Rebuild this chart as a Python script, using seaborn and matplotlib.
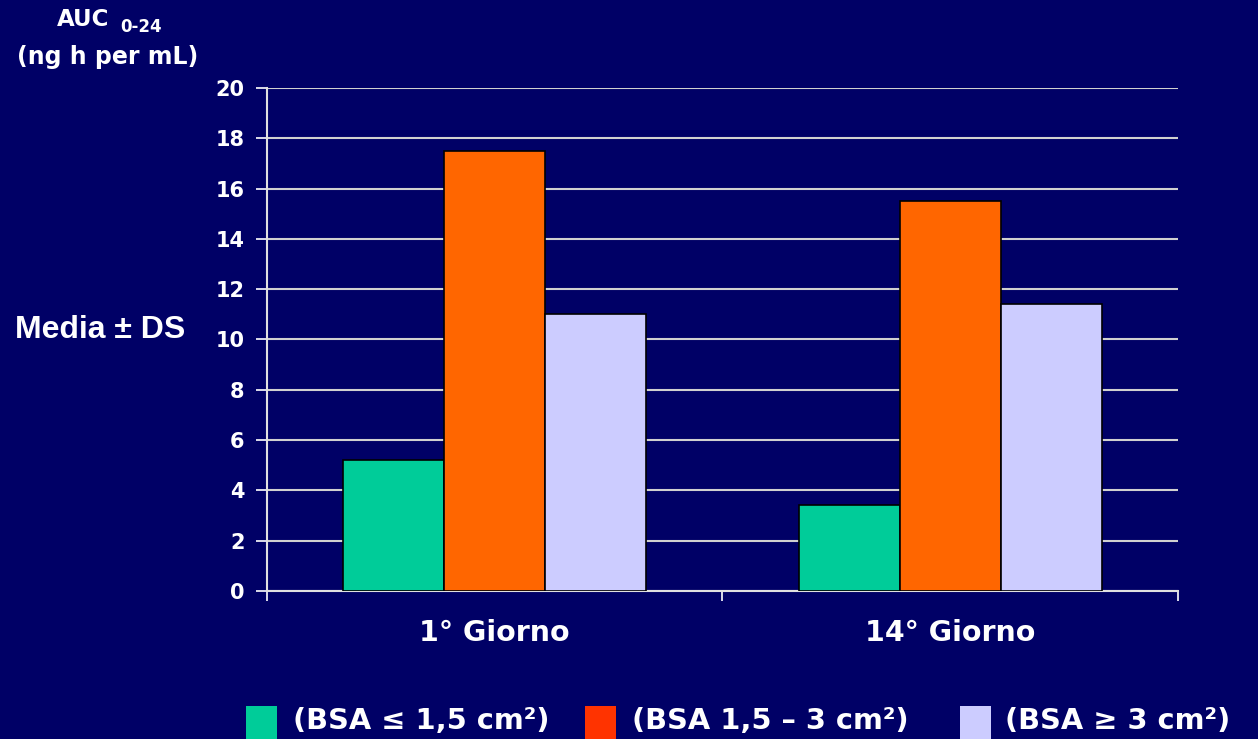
import matplotlib
matplotlib.use("Agg")
import matplotlib.pyplot as plt
import seaborn as sns
import pandas as pd
from matplotlib.patches import Rectangle

# Data
days = ["1° Giorno", "14° Giorno"]
groups = ["(BSA ≤ 1,5 cm²)", "(BSA 1,5 – 3 cm²)", "(BSA ≥ 3 cm²)"]
auc_bsa_low = [5.2, 3.4]
auc_bsa_mid = [17.5, 15.5]
auc_bsa_high = [11.0, 11.4]
y_ticks = [0, 2, 4, 6, 8, 10, 12, 14, 16, 18, 20]

bar_colors = ["#00CC99", "#FF6600", "#CCCCFF"]
legend_colors = ["#00CC99", "#FF3300", "#CCCCFF"]
bg = "#000066"

rows = []
for series, name in zip([auc_bsa_low, auc_bsa_mid, auc_bsa_high], groups):
    for d, v in zip(days, series):
        rows.append({"day": d, "group": name, "auc": v})
df = pd.DataFrame(rows)

sns.set_style("white")
plt.rcParams["font.family"] = ["DejaVu Sans"]

fig = plt.figure(figsize=(12.58, 7.39), dpi=100, facecolor=bg)
ax = fig.add_axes([0.2122, 0.2003, 0.7242, 0.6806])
ax.set_facecolor(bg)

sns.barplot(data=df, x="day", y="auc", hue="group", order=days, hue_order=groups,
            palette=bar_colors, width=0.665, edgecolor="black", linewidth=1.2,
            saturation=1, legend=False, ax=ax, zorder=3)

ax.set_ylim(0, 20)
ax.set_xlim(-0.5, 1.5)
ax.set_yticks(y_ticks)
ax.set_yticklabels([str(t) for t in y_ticks], fontsize=15, fontweight="bold", color="white")
ax.yaxis.grid(True, color="#D0D0D0", linewidth=1.5, zorder=0)
ax.set_axisbelow(True)
ax.tick_params(axis="y", length=8, width=1.2, color="white", pad=8, left=True)
ax.tick_params(axis="x", which="major", length=0, pad=20)
ax.set_xticks([-0.5, 0.5, 1.5], minor=True)
ax.tick_params(axis="x", which="minor", length=7, width=1.2, color="white", bottom=True)
for lab in ax.get_xticklabels():
    lab.set_fontsize(20.5)
    lab.set_fontweight("bold")
    lab.set_color("white")
ax.set_xlabel("")
ax.set_ylabel("")
for s in ["top", "right"]:
    ax.spines[s].set_visible(False)
for s in ["left", "bottom"]:
    ax.spines[s].set_color("#E0E0E0")
    ax.spines[s].set_linewidth(1.5)

W, H = 1258, 739


def fx(px):
    return px / W


def fy(py):
    return 1 - py / H


fig.text(fx(57), fy(20), "AUC", fontsize=16.5, fontweight="bold", color="white", va="center", ha="left")
fig.text(fx(120), fy(27), "0-24", fontsize=12, fontweight="bold", color="white", va="center", ha="left")
fig.text(fx(108), fy(57), "(ng h per mL)", fontsize=17, fontweight="bold", color="white", va="center", ha="center")
fig.text(fx(15), fy(330), "Media ± DS", fontsize=23, fontweight="bold", color="white",
         va="center", ha="left", family=["Liberation Sans", "DejaVu Sans"])

# Legend row along the bottom edge
swatch_x = [246, 585, 960]
text_x = [293, 632, 1005]
for sx, tx, col, name in zip(swatch_x, text_x, legend_colors, groups):
    fig.patches.append(Rectangle((fx(sx), fy(742)), 31 / W, 36 / H, transform=fig.transFigure,
                                 facecolor=col, edgecolor="none"))
    fig.text(fx(tx), fy(721), name, fontsize=20.8, fontweight="bold", color="white",
             va="center", ha="left", family=["DejaVu Sans"])

fig.savefig("out.png", dpi=100, facecolor=bg)
